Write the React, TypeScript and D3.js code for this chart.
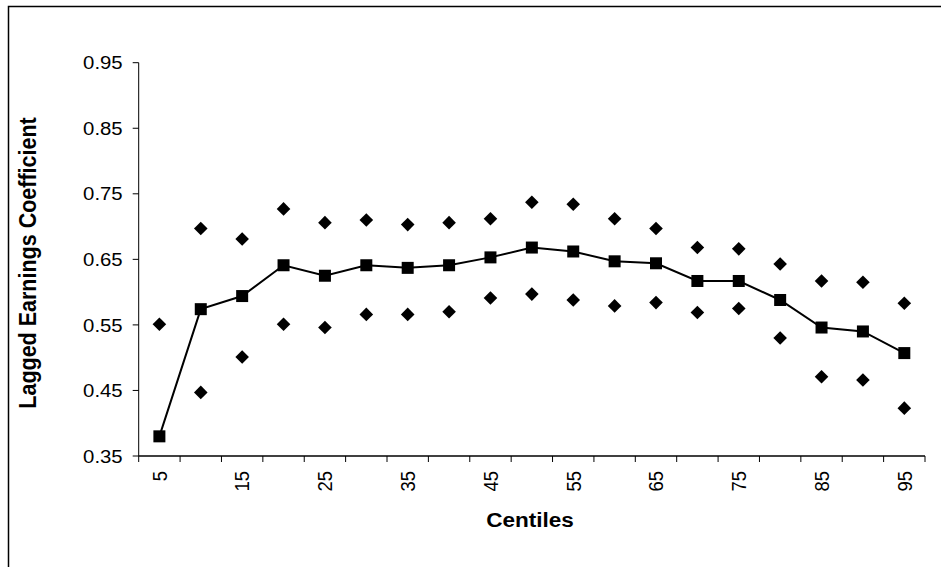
import React from "react";
import * as d3 from "d3";

const centiles = [5, 10, 15, 20, 25, 30, 35, 40, 45, 50, 55, 60, 65, 70, 75, 80, 85, 90, 95];
const coefficient = [0.380, 0.574, 0.594, 0.641, 0.625, 0.641, 0.637, 0.641, 0.653, 0.668, 0.662, 0.647, 0.644, 0.617, 0.617, 0.588, 0.546, 0.540, 0.507];
const upperBound = [0.551, 0.697, 0.681, 0.727, 0.706, 0.710, 0.703, 0.706, 0.712, 0.737, 0.734, 0.712, 0.697, 0.668, 0.666, 0.643, 0.617, 0.615, 0.583];
const lowerBound: (number | null)[] = [null, 0.447, 0.501, 0.551, 0.546, 0.566, 0.566, 0.570, 0.591, 0.597, 0.588, 0.579, 0.584, 0.569, 0.575, 0.530, 0.471, 0.466, 0.423];
const yTicks = [0.35, 0.45, 0.55, 0.65, 0.75, 0.85, 0.95];
const xTickLabels = [5, 15, 25, 35, 45, 55, 65, 75, 85, 95];

const FONT = "'Liberation Sans', Arial, Helvetica, sans-serif";

export default function App() {
  const left = 138.7;
  const right = 925;
  const top = 62.7;
  const bottom = 456;

  const x = d3.scaleBand<number>().domain(centiles).range([left, right]).paddingInner(0).paddingOuter(0);
  const y = d3.scaleLinear().domain([0.35, 0.95]).range([bottom, top]);
  const cx = (c: number) => (x(c) as number) + x.bandwidth() / 2;

  const line = d3
    .line<number>()
    .x((_, i) => cx(centiles[i]))
    .y((d) => y(d));

  const sq = 6;
  const dm = 6.8;
  const diamond = (px: number, py: number) =>
    `M${px},${py - dm}L${px + dm},${py}L${px},${py + dm}L${px - dm},${py}Z`;

  const boundaries = d3.range(centiles.length + 1).map((i) => left + i * x.bandwidth());
  const sx = 1.1;

  return (
    <svg
      width={941}
      height={567}
      style={{ position: "absolute", left: 0, top: 0, background: "#fff" }}
    >
      <rect x={8.5} y={6.5} width={1000} height={1000} fill="#fff" stroke="#000" strokeWidth={1.5} />

      {/* y axis */}
      <line x1={left} x2={left} y1={top} y2={bottom} stroke="#000" strokeWidth={1} />
      {yTicks.map((t) => (
        <g key={t}>
          <line x1={left - 6} x2={left} y1={y(t)} y2={y(t)} stroke="#000" strokeWidth={1} />
          <text
            transform={`translate(${left - 16},${y(t)}) scale(${sx},1)`}
            textAnchor="end"
            dominantBaseline="central"
            fontFamily={FONT}
            fontSize={18.5}
            fill="#000"
          >
            {t.toFixed(2)}
          </text>
        </g>
      ))}

      {/* x axis */}
      <line x1={left} x2={right} y1={bottom} y2={bottom} stroke="#000" strokeWidth={1.5} />
      {boundaries.map((bx, i) => (
        <line key={i} x1={bx} x2={bx} y1={bottom} y2={bottom + 6} stroke="#000" strokeWidth={1} />
      ))}
      {xTickLabels.map((c) => (
        <text
          key={c}
          transform={`translate(${cx(c)},${bottom + 15}) scale(${sx},1) rotate(-90)`}
          textAnchor="end"
          dominantBaseline="central"
          fontFamily={FONT}
          fontSize={18.5}
          fill="#000"
        >
          {c}
        </text>
      ))}

      {/* titles */}
      <text
        transform={`translate(${530},${527}) scale(${sx},1)`}
        textAnchor="middle"
        fontFamily={FONT}
        fontWeight="bold"
        fontSize={20.5}
        fill="#000"
      >
        Centiles
      </text>
      <text
        transform={`translate(${28},${263}) scale(${sx},1) rotate(-90)`}
        textAnchor="middle"
        dominantBaseline="central"
        fontFamily={FONT}
        fontWeight="bold"
        fontSize={21.5}
        fill="#000"
      >
        Lagged Earnings Coefficient
      </text>

      {/* main line */}
      <path d={line(coefficient) || ""} fill="none" stroke="#000" strokeWidth={2} />
      {coefficient.map((v, i) => (
        <rect key={`s${i}`} x={cx(centiles[i]) - sq} y={y(v) - sq} width={sq * 2} height={sq * 2} fill="#000" />
      ))}
      {upperBound.map((v, i) => (
        <path key={`u${i}`} d={diamond(cx(centiles[i]), y(v))} fill="#000" />
      ))}
      {lowerBound.map((v, i) =>
        v == null ? null : <path key={`l${i}`} d={diamond(cx(centiles[i]), y(v))} fill="#000" />
      )}
    </svg>
  );
}
